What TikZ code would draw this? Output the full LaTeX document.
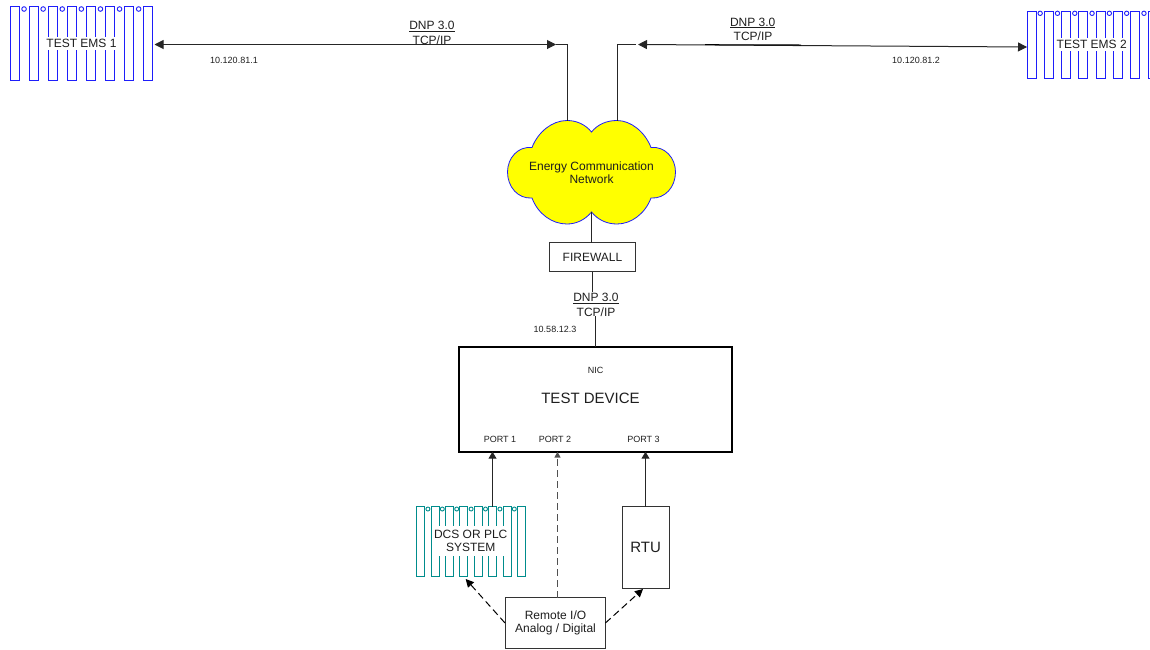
\documentclass[tikz,border=0pt]{standalone}
\usepackage{fontspec}
\setmainfont{Liberation Sans}
\usetikzlibrary{arrows.meta}
\definecolor{rackblue}{RGB}{30,30,250}
\definecolor{rackteal}{RGB}{0,140,140}
\definecolor{inkgrey}{RGB}{30,30,30}
\definecolor{dashgrey}{RGB}{80,80,80}
\definecolor{cloudyellow}{RGB}{255,255,0}
\tikzset{
  every node/.style={text=inkgrey,font=\fontsize{12}{13.5}\selectfont,align=center,inner sep=0pt,outer sep=0pt},
  wire/.style={draw=black!85,line width=1pt},
  tip/.style={-{Triangle[length=7pt,width=8pt]}},
  tiptwo/.style={{Triangle[length=9pt,width=9pt]}-{Triangle[length=9pt,width=9pt]}},
  dashwire/.style={draw=dashgrey,line width=1.5pt,dash pattern=on 7pt off 4pt,-{Triangle[length=6pt,width=6pt]}},
  dashblack/.style={draw=black,line width=1pt,dash pattern=on 7pt off 4pt,-{Triangle[length=8pt,width=8pt]}},
  boxed/.style={draw=black!80,line width=1pt,fill=white},
  small/.style={font=\fontsize{9}{10}\selectfont},
  big/.style={font=\fontsize{15}{16}\selectfont},
  anchorbox/.style={rectangle,draw=none}
}
% \rackdraw{colour}{x0}{pitch}{width}{y0}{y1}{circle y}{r}{bars}
\newcommand{\rackdraw}[9]{%
  \foreach \i in {1,...,#9}{
    \pgfmathsetmacro{\xa}{floor(#2+(\i-1)*#3)+0.5}
    \pgfmathsetmacro{\xb}{\xa+#4}
    \pgfmathsetmacro{\xc}{#2+(\i-1)*#3+#3-(#3-#4)/2}
    \draw[draw=#1,line width=1pt] (\xa,#5) rectangle (\xb,#6);
    \ifnum\i<#9\relax
      \draw[draw=#1,line width=0.9pt] (\xc,#7) circle[radius=#8];
    \fi
  }%
}
\begin{document}
\begin{tikzpicture}[x=1pt,y=-1pt]
\useasboundingbox (0,0) rectangle (1150,649);
% Racks
\rackdraw{rackblue}{10}{19.1}{9}{6.5}{80.5}{9}{2.3}{8}
\node[anchorbox,minimum width=144pt,minimum height=75pt] (ems1) at (82,43.3) {};
\node[fill=white,minimum width=71pt,minimum height=13pt] (ems1t) at (81.5,43.4) {TEST EMS 1};
\rackdraw{rackblue}{1027}{17.3}{9}{11.5}{78.5}{13.3}{2.2}{8}
\node[anchorbox,minimum width=123pt,minimum height=67pt] (ems2) at (1088.5,47.5) {};
\node[fill=white,minimum width=71pt,minimum height=13pt] (ems2t) at (1091.7,44.2) {TEST EMS 2};
\rackdraw{rackteal}{416.7}{14.4}{8}{506.5}{576.5}{509}{2}{8}
\node[anchorbox,minimum width=108.6pt,minimum height=70pt] (dcs) at (471,541.7) {};
\node[fill=white,minimum width=75pt,minimum height=30pt] (dcst) at (470.7,541) {DCS OR PLC\\SYSTEM};
% Cloud
\path[draw=rackblue,line width=0.8pt,fill=cloudyellow]
  (591.5,132)
  .. controls (598,124) and (607,120.5) .. (617,120.5)
  .. controls (631,120.5) and (645,132) .. (651,147.5)
  .. controls (665,146) and (675.5,158) .. (675.5,172)
  .. controls (675.5,187) and (665,199) .. (651,198)
  .. controls (645,214) and (631,224) .. (617,224)
  .. controls (607,224) and (598,220) .. (591.5,212)
  .. controls (585,220) and (576,224) .. (567,224)
  .. controls (552,224) and (538,214) .. (532,198)
  .. controls (518,199) and (507.5,187) .. (507.5,172)
  .. controls (507.5,158) and (518,146) .. (532,147.5)
  .. controls (538,132) and (552,120.5) .. (567,120.5)
  .. controls (576,120.5) and (585,124) .. (591.5,132) -- cycle;
\node (cloud) at (591.5,172.5) {Energy Communication\\Network};
\coordinate (cloudtl) at (567.5,120.5);
\coordinate (cloudtr) at (617.5,120.5);
\coordinate (cloudb) at (591.5,212);
% Boxes
\node[boxed,minimum width=86pt,minimum height=29pt] (fw) at (592.5,257) {FIREWALL};
\node[draw=black,line width=2pt,minimum width=273pt,minimum height=105pt] (dev) at (595.5,399.5) {};
\node[big] (devt) at (590.5,398) {TEST DEVICE};
\node[small] (nic) at (595.5,370.5) {NIC};
\node[small] (p1) at (500,439) {PORT 1};
\node[small] (p2) at (555,439) {PORT 2};
\node[small] (p3) at (643.5,439) {PORT 3};
\node[boxed,minimum width=47pt,minimum height=82pt] (rtu) at (646,547.5) {};
\node[big] (rtut) at (645.6,547.3) {RTU};
\node[boxed,minimum width=100pt,minimum height=51pt] (rio) at (555.5,623) {Remote I/O\\Analog / Digital};
% Coordinates for free ends
\coordinate (lleft) at (154.5,44.5);
\coordinate (lcorner) at (567.5,44.5);
\coordinate (rcorner) at (617.5,44.5);
\coordinate (rstub) at (636,44.5);
\coordinate (rtip) at (638,44.5);
\coordinate (rend) at (1027,47);
\coordinate (seg1) at (705,44.7);
\coordinate (seg2) at (801,45);
\coordinate (fwdown) at (592.5,292);
\coordinate (devup) at (595.5,316);
\coordinate (devtop) at (595.5,347);
\coordinate (p1t) at (492.5,451.7);
\coordinate (p2t) at (557.5,451.7);
\coordinate (p3t) at (645.5,451.7);
\coordinate (dcstop) at (492.5,506.7);
\coordinate (rtutop) at (645.5,506.7);
\coordinate (riotop) at (557.5,597.7);
\coordinate (rioleft) at (505,623);
\coordinate (rioright) at (605.4,623);
\coordinate (dcsarrow) at (465.7,579);
\coordinate (rtuarrow) at (643,589);
% Connectors
\draw[wire,tiptwo,shorten >=11.5pt] (lleft) -- (lcorner);
\draw[wire] (lcorner) ++(-12,0) -- (lcorner) -- (cloudtl);
\draw[wire] (cloudtr) -- (rcorner) -- (rstub);
\draw[wire,tiptwo] (rtip) -- (rend);
\draw[draw=black,line width=1pt] (seg1) -- (seg2);
\draw[wire] (cloudb) -- (fw.north -| cloudb);
\draw[wire] (fw.south -| fwdown) -- (fwdown);
\draw[wire] (devup) -- (devtop);
\draw[wire,tip] (dcstop) -- (p1t);
\draw[wire,tip] (rtutop) -- (p3t);
\draw[dashwire] (riotop) -- (p2t);
\draw[dashblack] (rioleft) -- (dcsarrow);
\draw[dashblack] (rioright) -- (rtuarrow);
% Labels
\node (l1) at (432,26.4) {\underline{DNP 3.0}};
\node (l2) at (432,40) {TCP/IP};
\node (l3) at (752.7,23) {\underline{DNP 3.0}};
\node (l4) at (753,36.5) {TCP/IP};
\node (l5) at (596,298.4) {\underline{DNP 3.0}};
\node (l6) at (596,312.5) {TCP/IP};
\node[small] (a1) at (234,60.3) {10.120.81.1};
\node[small] (a2) at (916,60.3) {10.120.81.2};
\node[small] (a3) at (555,329.3) {10.58.12.3};
\end{tikzpicture}
\end{document}
